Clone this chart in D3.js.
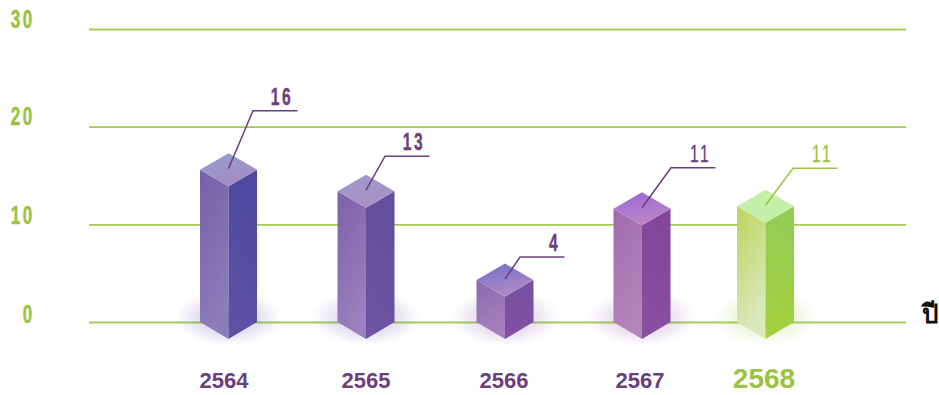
<!DOCTYPE html>
<html>
<head>
<meta charset="utf-8">
<script src="https://cdn.jsdelivr.net/npm/d3@7"></script>
<style>
  html, body { margin: 0; padding: 0; background: #fff; overflow: hidden; }
</style>
</head>
<body>
<svg id="chart" width="939" height="395"></svg>
<script>
// Datos del gráfico
const years = ['2564', '2565', '2566', '2567', '2568'];
const labels = [16, 13, 4, 11, 11];
// Altura dibujada de cada barra, leída contra el eje (no coincide del todo con la etiqueta)
const barHeights = [15.6, 13.4, 4.3, 11.6, 11.85];
const yTicks = [0, 10, 20, 30];
const unitLabel = 'ปี';

const purple = '#6b3f7e';
const green = '#9cc243';
const gridColor = '#a6cb55';

// Colores de cada barra: [izq arriba, izq abajo, der arriba, der abajo, tapa inicio, tapa fin, sombra]
const barColors = [
    ['#7460a8', '#8b7dba', '#4f4a9f', '#6152a6', '#8ea0cc', '#a48cc4', '#5a4aa0'],
    ['#7e60a8', '#9a80bc', '#62509c', '#6e54a4', '#9a9ccc', '#a890c4', '#6a50a4'],
    ['#8c68ae', '#a680bc', '#7850a0', '#8050a4', '#7070cc', '#b088c4', '#7a50a4'],
    ['#a06cac', '#b484bc', '#82469a', '#8a50a0', '#9868d4', '#bc84c4', '#8a50a4'],
    ['#bcd45c', '#dce8c0', '#94cc54', '#a8d038', '#c2eea4', '#c6f0aa', '#a0d050']
];

const svg = d3.select('#chart');
const defs = svg.append('defs');

const y = d3.scaleLinear().domain([0, 30]).range([322, 29]);
const x = d3.scaleOrdinal().domain(years).range([228.5, 366, 505, 642, 765.5]);
const xLabel = d3.scaleOrdinal().domain(years).range([224, 366, 504, 640, 764]);

const halfW = 28.5;  // media anchura de la barra
const rise = 16.5;   // inclinación isométrica
const narrow = 0.68; // no hay fuente condensada: se comprime en horizontal

function addGradient(id, from, to, x2, y2) {
    const g = defs.append('linearGradient').attr('id', id)
        .attr('x1', 0).attr('y1', 0).attr('x2', x2).attr('y2', y2);
    g.append('stop').attr('offset', '0%').attr('stop-color', from);
    g.append('stop').attr('offset', '100%').attr('stop-color', to);
}

barColors.forEach((c, i) => {
    addGradient('left' + i, c[0], c[1], 0.35, 1);
    addGradient('right' + i, c[2], c[3], -0.2, 1);
    addGradient('top' + i, c[4], c[5], 0.4, 1);
    const r = defs.append('radialGradient').attr('id', 'shadow' + i);
    r.append('stop').attr('offset', '20%').attr('stop-color', c[6]).attr('stop-opacity', 0.3);
    r.append('stop').attr('offset', '100%').attr('stop-color', c[6]).attr('stop-opacity', 0);
});

// Eje Y con líneas de cuadrícula
const tickShift = { 0: 0, 10: -1, 20: -2, 30: -2 };
const yAxis = svg.append('g')
    .attr('transform', 'translate(89,0)')
    .call(d3.axisRight(y).tickValues(yTicks).tickSize(817).tickFormat(d3.format('d')));
yAxis.select('.domain').remove();
yAxis.selectAll('line').attr('stroke', gridColor).attr('stroke-width', 1.8);
yAxis.selectAll('text')
    .attr('x', 0)
    .attr('dy', 0)
    .attr('transform', d => `translate(-54,${tickShift[d]}) scale(${narrow},1)`)
    .attr('text-anchor', 'end')
    .attr('font-family', '"Liberation Sans", sans-serif')
    .attr('font-weight', 700)
    .attr('font-size', 25)
    .attr('letter-spacing', 4)
    .attr('stroke', green)
    .attr('stroke-width', 0.5)
    .attr('fill', green);

const poly = d3.line();

const bars = svg.selectAll('.bar')
    .data(years)
    .enter().append('g')
    .attr('class', 'bar');

// Sombra en el suelo
bars.append('ellipse')
    .attr('cx', d => x(d))
    .attr('cy', 318)
    .attr('rx', 54)
    .attr('ry', 28)
    .attr('fill', (d, i) => `url(#shadow${i})`);

// Cara izquierda
bars.append('path')
    .attr('d', (d, i) => {
        const cx = x(d), top = y(barHeights[i]), base = y(0);
        return poly([[cx - halfW, top], [cx, top + rise], [cx, base + rise + 0.5], [cx - halfW, base]]) + 'Z';
    })
    .attr('fill', (d, i) => `url(#left${i})`);

// Cara derecha
bars.append('path')
    .attr('d', (d, i) => {
        const cx = x(d), top = y(barHeights[i]), base = y(0);
        return poly([[cx, top + rise], [cx + halfW, top], [cx + halfW, base], [cx, base + rise + 0.5]]) + 'Z';
    })
    .attr('fill', (d, i) => `url(#right${i})`);

// Tapa
bars.append('path')
    .attr('d', (d, i) => {
        const cx = x(d), top = y(barHeights[i]);
        return poly([[cx - halfW, top], [cx, top - rise], [cx + halfW, top], [cx, top + rise]]) + 'Z';
    })
    .attr('fill', (d, i) => `url(#top${i})`);

// Línea guía y etiqueta de valor
const leaderRise = [58, 34, 22, 40, 37];
const leaderRun = [24.5, 19, 15, 29, 27.5];
const leaderLen = 44.5;
const isLast = i => i === years.length - 1;

bars.append('path')
    .attr('d', (d, i) => {
        const cx = x(d), sy = y(barHeights[i]) - 1;
        const ex = cx + leaderRun[i], ey = sy - leaderRise[i];
        return poly([[cx, sy], [ex, ey], [ex + leaderLen, ey]]);
    })
    .attr('fill', 'none')
    .attr('stroke', (d, i) => isLast(i) ? green : purple)
    .attr('stroke-width', 1.5);

bars.append('text')
    .attr('transform', (d, i) => {
        const tx = x(d) + leaderRun[i] + leaderLen - 4.5;
        const ty = y(barHeights[i]) - 1 - leaderRise[i] - 6;
        return `translate(${tx},${ty}) scale(${narrow},1)`;
    })
    .attr('text-anchor', 'end')
    .attr('font-family', '"Liberation Sans", sans-serif')
    .attr('font-weight', (d, i) => i >= 3 ? 400 : 700)
    .attr('font-size', 23)
    .attr('letter-spacing', 3.5)
    .attr('stroke', (d, i) => isLast(i) ? green : purple)
    .attr('stroke-width', (d, i) => i >= 3 ? 0.3 : 0.4)
    .attr('fill', (d, i) => isLast(i) ? green : purple)
    .text((d, i) => labels[i]);

// Etiquetas de año
bars.append('text')
    .attr('x', d => xLabel(d))
    .attr('y', 388)
    .attr('text-anchor', 'middle')
    .attr('font-family', '"Liberation Sans", Arial, sans-serif')
    .attr('font-weight', 700)
    .attr('font-size', (d, i) => isLast(i) ? 28 : 22)
    .attr('fill', (d, i) => isLast(i) ? green : purple)
    .text(d => d);

// Unidad del eje X
svg.append('text')
    .attr('x', 922)
    .attr('y', 323)
    .attr('font-family', '"Noto Sans", "DejaVu Sans", sans-serif')
    .attr('font-weight', 700)
    .attr('font-size', 26)
    .attr('fill', '#111')
    .text(unitLabel);
</script>
</body>
</html>
